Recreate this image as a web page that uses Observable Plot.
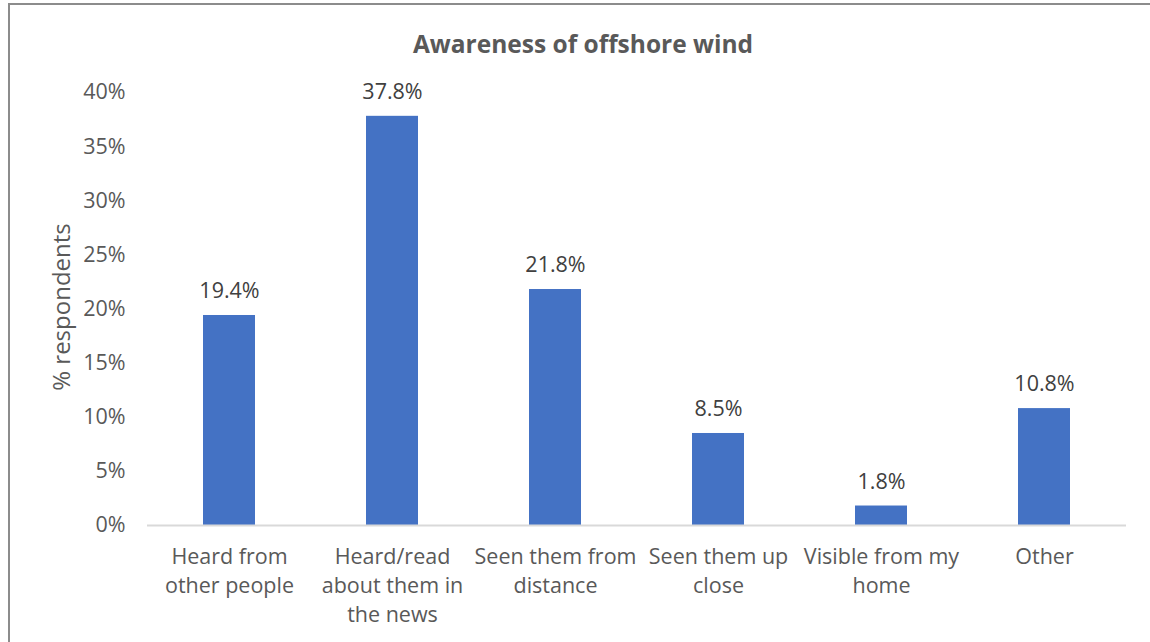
<!DOCTYPE html>
<html>
<head>
<meta charset="utf-8">
<script src="https://cdn.jsdelivr.net/npm/d3@7"></script>
<script src="https://cdn.jsdelivr.net/npm/@observablehq/plot@0.6"></script>
<style>
  html, body { margin: 0; padding: 0; background: #fff; }
  #wrap { position: relative; width: 1150px; height: 642px; overflow: hidden; }
  #frame { position: absolute; left: 8px; top: 3px; width: 1160px; height: 660px; border-left: 2px solid #8c8c8c; border-top: 2px solid #8c8c8c; box-sizing: border-box; }
  #title { position: absolute; top: 27px; left: 583px; transform: translateX(-50%); white-space: nowrap;
           font-family: "Open Sans", sans-serif; font-weight: bold; font-size: 24.5px; line-height: 34px; color: #595959; }
  #chart { position: absolute; left: 0; top: 0; }
</style>
</head>
<body>
<div id="wrap">
  <div id="frame"></div>
  <div id="chart"></div>
  <div id="title">Awareness of offshore wind</div>
</div>
<script>
const categories = [
  "Heard from\nother people",
  "Heard/read\nabout them in\nthe news",
  "Seen them from\ndistance",
  "Seen them up\nclose",
  "Visible from my\nhome",
  "Other"
];
const values = [19.4, 37.8, 21.8, 8.5, 1.8, 10.8];
const yTicks = [0, 5, 10, 15, 20, 25, 30, 35, 40];
const yLabel = "% respondents";

const data = categories.map((c, i) => ({category: c, value: values[i]}));

const FS = 21.5;
const chart = Plot.plot({
  width: 1150,
  height: 642,
  marginLeft: 147,
  marginRight: 24,
  marginTop: 92,
  marginBottom: 117,
  style: {fontFamily: "'Open Sans', sans-serif", fontSize: FS + "px", color: "#595959", background: "transparent"},
  x: {domain: categories, paddingInner: 0.68, paddingOuter: 0.34, align: 0.5, label: null},
  y: {domain: [0, 40], label: null},
  marks: [
    Plot.axisY({ticks: yTicks, tickSize: 0, tickPadding: 22, tickFormat: d => d + "%", label: null, fontSize: FS, fill: "#595959"}),
    Plot.axisX({tickSize: 0, tickPadding: 18, label: null, fontSize: FS, lineHeight: 1.35, fill: "#595959", lineAnchor: "top"}),
    Plot.barY(data, {x: "category", y: "value", fill: "#4472C4"}),
    Plot.ruleY([0], {stroke: "#d9d9d9", strokeWidth: 2}),
    Plot.text(data, {x: "category", y: "value", text: d => d.value.toFixed(1) + "%", dy: -24, fontSize: FS, fill: "#404040"}),
    Plot.text([yLabel], {frameAnchor: "left", dx: -85, dy: -2, rotate: -90, textAnchor: "middle", fontSize: 24, fill: "#595959"})
  ]
});
document.getElementById("chart").appendChild(chart);
</script>
</body>
</html>
